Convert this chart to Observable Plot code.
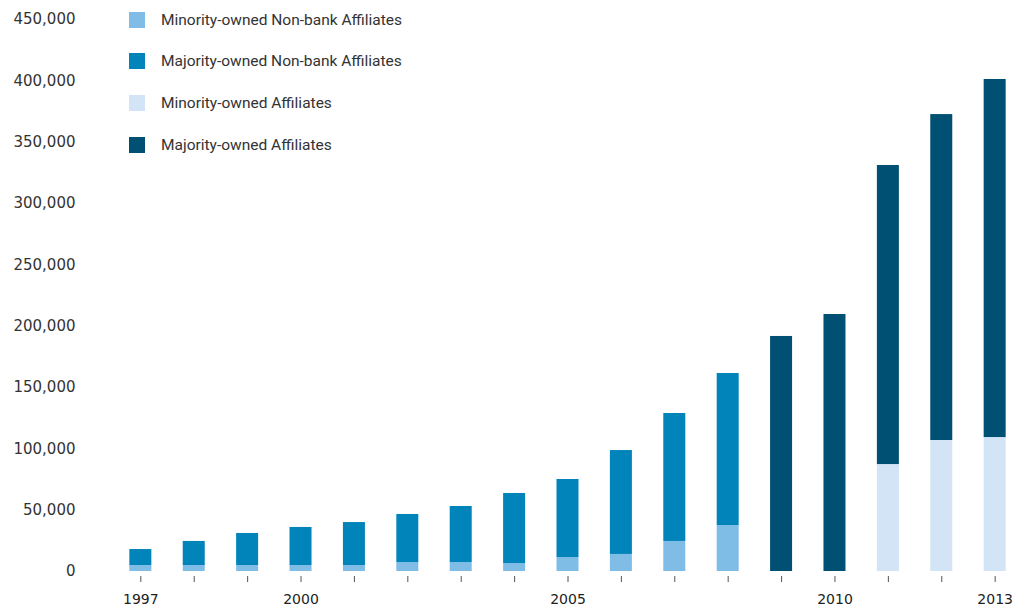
<!DOCTYPE html>
<html><head><meta charset="utf-8">
<script src="https://cdn.jsdelivr.net/npm/d3@7"></script>
<script src="https://cdn.jsdelivr.net/npm/@observablehq/plot@0.6"></script>
<style>
body{margin:0;background:#fff}
#wrap{position:relative;width:1015px;height:609px}
#legend{position:absolute;left:129px;top:11px;font-family:Roboto,sans-serif;font-size:15.5px;color:#333}
.row{display:flex;align-items:center;height:17px;margin-bottom:24.7px;white-space:nowrap}
.sw{width:16px;height:16px;margin-right:16px;flex:none}
</style></head><body><div id="wrap"></div>
<script>
const years = [1997,1998,1999,2000,2001,2002,2003,2004,2005,2006,2007,2008,2009,2010,2011,2012,2013];
const seriesNames = ["Minority-owned Non-bank Affiliates","Majority-owned Non-bank Affiliates","Minority-owned Affiliates","Majority-owned Affiliates"];
const seriesColors = ["#7fbde7","#0084b9","#d2e4f5","#005073"];
const minorityNonBank = [4900,4900,4900,4900,4900,7300,7300,6500,11400,13900,24500,37500,0,0,0,0,0];
const majorityNonBank = [13000,19600,26100,31000,35000,39200,45700,57100,63600,84700,104300,123900,0,0,0,0,0];
const minorityAffiliates = [0,0,0,0,0,0,0,0,0,0,0,0,0,0,87200,106800,109200];
const majorityAffiliates = [0,0,0,0,0,0,0,0,0,0,0,0,191600,209500,243800,265700,291900];
const yTicks = [0,50000,100000,150000,200000,250000,300000,350000,400000,450000];
const labeledYears = [1997,2000,2005,2010,2013];

const seriesValues = [minorityNonBank, majorityNonBank, minorityAffiliates, majorityAffiliates];
const data = [];
years.forEach((yr, i) => {
  seriesNames.forEach((s, k) => {
    if (seriesValues[k][i] > 0) data.push({year: yr, series: s, value: seriesValues[k][i]});
  });
});

const chart = Plot.plot({
  width: 1015,
  height: 609,
  marginLeft: 124,
  marginRight: 4,
  marginTop: 19,
  marginBottom: 38,
  style: {fontFamily: "DejaVu Sans, sans-serif", background: "#fff"},
  x: {type: "band", domain: years, paddingInner: 0.588, paddingOuter: 0.1, round: false, label: null},
  y: {domain: [0, 450000], label: null},
  color: {domain: seriesNames, range: seriesColors},
  marks: [
    Plot.barY(data, {x: "year", y: "value", fill: "series", order: seriesNames}),
    Plot.axisY({ticks: yTicks, tickSize: 0, tickPadding: 49, tickFormat: d3.format(","), fontSize: 15, fill: "#333", label: null}),
    Plot.axisX({ticks: years, tickSize: 6, dy: 5, tickPadding: 12, stroke: "#555", tickFormat: d => labeledYears.includes(d) ? String(d) : "", fontSize: 14, fill: "#222", label: null})
  ]
});
const wrap = document.getElementById("wrap");
wrap.appendChild(chart);
const legend = document.createElement("div");
legend.id = "legend";
seriesNames.forEach((s, k) => {
  const row = document.createElement("div");
  row.className = "row";
  const sw = document.createElement("div");
  sw.className = "sw";
  sw.style.background = seriesColors[k];
  const t = document.createElement("span");
  t.textContent = s;
  row.appendChild(sw); row.appendChild(t);
  legend.appendChild(row);
});
wrap.appendChild(legend);
</script></body></html>
